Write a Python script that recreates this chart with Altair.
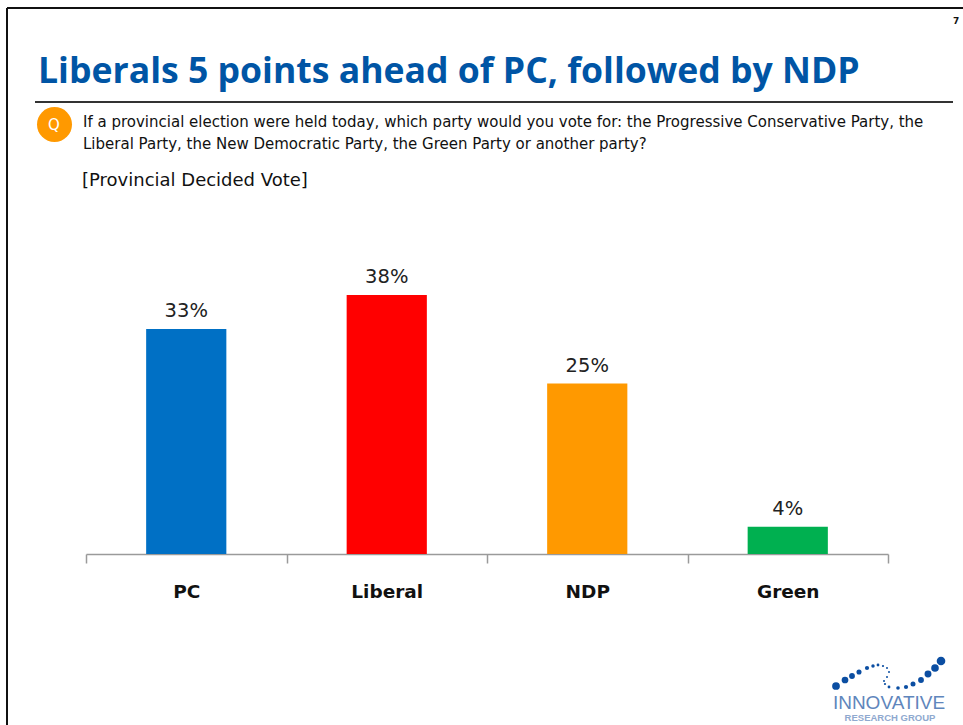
import altair as alt
import pandas as pd

# Vote share by party
parties = ["PC", "Liberal", "NDP", "Green"]
votes = [33, 38, 25, 4]
bar_colors = ["#0070C5", "#FF0000", "#FF9900", "#00B050"]

title_text = "Liberals 5 points ahead of PC, followed by NDP"
question_lines = [
    "If a provincial election were held today, which party would you vote for: the Progressive Conservative Party, the",
    "Liberal Party, the New Democratic Party, the Green Party or another party?",
]
base_text = "[Provincial Decided Vote]"

# Logo wave: horizontal position, vertical position, dot size
logo_x = [836, 845, 852, 859, 867, 873, 878, 883, 887, 889, 887, 884, 885, 889, 898, 906, 913, 921, 928, 935, 941]
logo_y = [686, 680, 676, 672, 668, 666, 665, 666, 668, 672, 677, 681, 684, 687, 688, 687, 684, 680, 674, 668, 661]
logo_s = [60, 45, 34, 26, 18, 12, 8, 5, 4, 4, 4, 4, 5, 8, 13, 18, 25, 34, 48, 58, 75]

W, H = 963, 725
BASELINE = 554
TOP = 295

bars_df = pd.DataFrame({"party": parties, "vote": votes, "color": bar_colors})
bars_df["label"] = bars_df["vote"].astype(str) + "%"

x_scale = alt.Scale(type="band", domain=parties, range=[86, 888], padding=0)
y_enc = alt.Y(
    "vote:Q",
    axis=None,
    scale=alt.Scale(domain=[0, 38], range=[BASELINE, TOP], nice=False, zero=True),
)

bars = alt.Chart(bars_df).mark_bar(width=alt.RelativeBandSize(band=0.4)).encode(
    x=alt.X(
        "party:N",
        sort=parties,
        title=None,
        scale=x_scale,
        axis=alt.Axis(
            orient="bottom",
            offset=BASELINE - H,
            tickBand="extent",
            tickSize=9,
            tickWidth=1.5,
            tickColor="#9a9a9a",
            domainColor="#9a9a9a",
            domainWidth=1.5,
            labelAngle=0,
            labelPadding=19,
            labelFont="DejaVu Sans",
            labelFontWeight="bold",
            labelFontSize=18.5,
            labelColor="#111111",
            grid=False,
        ),
    ),
    y=y_enc,
    color=alt.Color("color:N", scale=None),
)
value_labels = alt.Chart(bars_df).mark_text(
    font="DejaVu Sans", fontSize=19.5, dy=-8, baseline="bottom", color="#222222"
).encode(
    x=alt.X("party:N", sort=parties, axis=None, scale=x_scale),
    y=y_enc,
    text="label:N",
)


def note(text, x, y, size, color="#111111", weight="normal", font="DejaVu Sans", align="left"):
    return alt.Chart(pd.DataFrame({"t": [text]})).mark_text(
        font=font, fontSize=size, fontWeight=weight, color=color, align=align, baseline="alphabetic"
    ).encode(x=alt.value(x), y=alt.value(y), text="t:N")


def line(x1, y1, x2, y2, color, width):
    return alt.Chart(pd.DataFrame({"a": [0]})).mark_rule(color=color, strokeWidth=width).encode(
        x=alt.value(x1), x2=alt.value(x2), y=alt.value(y1), y2=alt.value(y2)
    )


frame = line(7, 8, W, 8, "#111111", 2) + line(7, 8, 7, H, "#111111", 2)
divider = line(35, 102, 953, 102, "#333333", 2)

badge = alt.Chart(pd.DataFrame({"a": [0]})).mark_point(
    filled=True, color="#FF9900", size=1225, opacity=1
).encode(x=alt.value(54.5), y=alt.value(124.5))

logo_df = pd.DataFrame({"lx": logo_x, "ly": logo_y, "ls": logo_s})
logo_dots = alt.Chart(logo_df).mark_point(filled=True, color="#0B4EA2", opacity=1).encode(
    x=alt.X("lx:Q", axis=None, scale=alt.Scale(domain=[0, W], range=[0, W], nice=False, zero=False)),
    y=alt.Y("ly:Q", axis=None, scale=alt.Scale(domain=[0, H], range=[0, H], nice=False, zero=False)),
    size=alt.Size("ls:Q", scale=None),
)

chart = alt.layer(
    frame,
    divider,
    bars,
    value_labels,
    note(title_text, 38, 83, 35.6, color="#0055A5", weight="bold", font="Open Sans"),
    note("7", 953, 24, 9, weight="bold"),
    badge,
    note("Q", 54, 130, 15, color="#FFFFFF", align="center"),
    note(question_lines[0], 83, 127, 15),
    note(question_lines[1], 83, 149, 15),
    note(base_text, 82, 186, 18),
    logo_dots,
    note("INNOVATIVE", 889, 709, 19, color="#5F86BC", align="center", font="Liberation Sans"),
    note("RESEARCH GROUP", 890, 721, 9.5, color="#8FA9CF", weight="bold", align="center", font="Liberation Sans"),
).resolve_scale(x="independent", y="independent").properties(
    width=W,
    height=H,
    padding=0,
    autosize=alt.AutoSizeParams(type="none"),
    background="white",
).configure_view(stroke=None)

chart.save("out.html", embed_options={"renderer": "svg", "actions": False})
